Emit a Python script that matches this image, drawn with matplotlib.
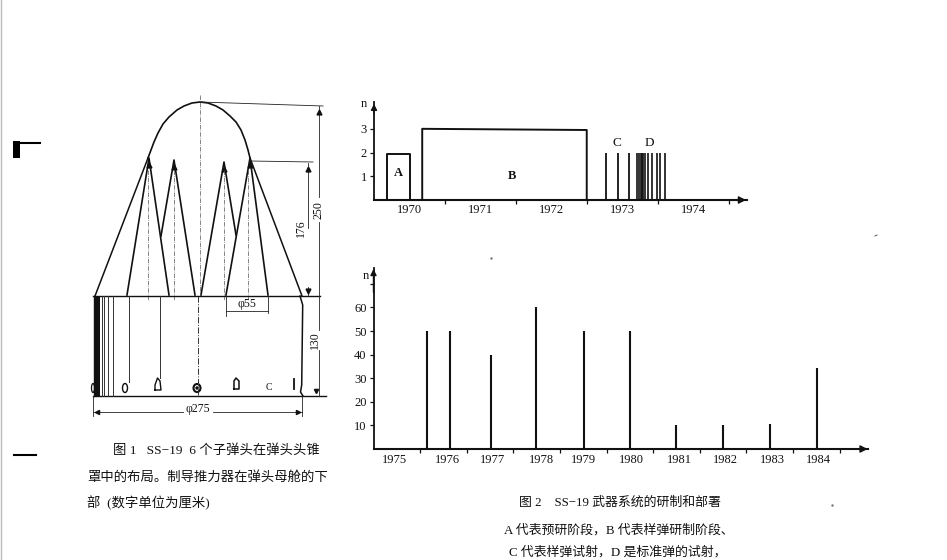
import numpy as np
import matplotlib
matplotlib.use('Agg')
import matplotlib.pyplot as plt
from matplotlib.patches import Ellipse

plt.rcParams['font.family'] = ['Liberation Serif', 'Noto Sans CJK SC', 'DejaVu Sans']

# figure 2, upper chart: development phases 1970-1974
top_years = [1970, 1971, 1972, 1973, 1974]
phase_a = [1970.18, 1970.51, 1.95]
phase_b = [1970.68, 1973.0, 3.0]
shots_c = [1973.27, 1973.44, 1973.59]
shots_d = [1973.705, 1973.742, 1973.762, 1973.78, 1973.798, 1973.822,
           1973.869, 1973.917, 1973.987, 1974.034, 1974.10]
shot_height = 2

# figure 2, lower chart: deployment 1975-1984
low_years = [1975, 1976, 1977, 1978, 1979, 1980, 1981, 1982, 1983, 1984]
low_x = [1976.155, 1976.642, 1977.52, 1978.487, 1979.51, 1980.51,
         1981.49, 1982.51, 1983.51, 1984.51]
low_n = [50, 50, 40, 60, 50, 50, 10, 10, 10.5, 34.5]
low_yticks = [10, 20, 30, 40, 50, 60]

# figure 1, schematic outline (page pixels)
dome_x = [148, 151, 154, 158, 163, 169, 177, 184, 192, 200, 208, 216, 223, 230, 236, 241, 245, 248, 250]
dome_y = [158, 150, 142, 133, 124, 117, 110, 106, 103, 102, 103, 106, 110, 116, 122, 130, 140, 150, 158]
cone_left = [(148, 158), (95, 296)]
cone_right = [(250, 158), (302, 296)]
warheads = [[(127, 295), (149, 158), (169, 295)],
            [(161, 236), (174, 160), (195, 295)],
            [(201, 295), (224, 162), (236, 235)],
            [(226, 295), (250, 158), (268, 295)]]
center_lines = [148, 174, 224, 248]
body_lines = [(102, 396), (104, 396), (108, 396), (113, 396), (129, 382), (160, 378)]

caption1 = ['图 1   SS−19  6 个子弹头在弹头头锥',
            '罩中的布局。制导推力器在弹头母舱的下',
            '部  (数字单位为厘米)']
caption2 = ['图 2    SS−19 武器系统的研制和部署',
            'A 代表预研阶段，B 代表样弹研制阶段、',
            'C 代表样弹试射，D 是标准弹的试射，']

W, H = 947, 560
INK = '#111111'
fig = plt.figure(figsize=(W / 100, H / 100), dpi=100)

page = fig.add_axes([0, 0, 1, 1])
page.set_xlim(0, W)
page.set_ylim(H, 0)
page.axis('off')


def chart_axes(left, right, top, bottom):
    ax = fig.add_axes([left / W, 1 - bottom / H, (right - left) / W, (bottom - top) / H])
    ax.patch.set_alpha(0)
    ax.spines['top'].set_visible(False)
    ax.spines['right'].set_visible(False)
    ax.spines['left'].set_linewidth(1.3)
    ax.spines['bottom'].set_linewidth(1.5)
    ax.spines['left'].set_color(INK)
    ax.spines['bottom'].set_color(INK)
    ax.tick_params(length=3, width=0.9, pad=2, labelsize=9, colors=INK)
    # arrow heads on both axes
    ax.annotate('', xy=(1.005, 0), xytext=(0.94, 0), xycoords='axes fraction',
                arrowprops=dict(arrowstyle='-|>', color=INK, lw=1, mutation_scale=11))
    ax.annotate('', xy=(0, 1.01), xytext=(0, 0.85), xycoords='axes fraction',
                arrowprops=dict(arrowstyle='-|>', color=INK, lw=1, mutation_scale=9))
    return ax


# upper chart
ax1 = chart_axes(374, 747, 102, 200)
ax1.set_xlim(1970, 1975.26)
ax1.set_ylim(0, 4.13)
ax1.set_yticks([1, 2, 3])
ax1.set_xticks(top_years[1:] + [1975])
ax1.set_xticklabels([])
ax1.plot([phase_a[0], phase_a[0], phase_a[1], phase_a[1]], [0, phase_a[2], phase_a[2], 0], color=INK, lw=1.4)
ax1.plot([phase_b[0], phase_b[0], phase_b[1], phase_b[1]], [0, phase_b[2], phase_b[2] - 0.05, 0], color=INK, lw=1.4)
ax1.vlines(shots_c, 0, shot_height, color=INK, lw=1.3)
ax1.vlines(shots_d, 0, shot_height, color=INK, lw=1.2)
for y in top_years:
    ax1.text(y + 0.5, -0.42, str(y), ha='center', va='center', fontsize=9, color=INK)
ax1.text(1970.35, 1.12, 'A', ha='center', va='center', fontsize=9, fontweight='bold', color=INK)
ax1.text(1971.95, 1.0, 'B', ha='center', va='center', fontsize=9, fontweight='bold', color=INK)
ax1.text(1973.42, 2.4, 'C', ha='center', va='center', fontsize=9.5, color=INK)
ax1.text(1973.88, 2.4, 'D', ha='center', va='center', fontsize=9.5, color=INK)
page.text(364, 104, 'n', ha='center', va='center', fontsize=9, color=INK)

# lower chart
ax2 = chart_axes(373.5, 868, 268, 449)
ax2.set_xlim(1975, 1975 + (868 - 373.5) / 46.6)
ax2.set_ylim(0, (449 - 268) / 2.36)
ax2.set_yticks(low_yticks + [70])
ax2.set_yticklabels([str(v) for v in low_yticks] + [''])
ax2.set_xticks([y + 1 for y in low_years])
ax2.set_xticklabels([])
ax2.vlines(low_x, 0, low_n, color=INK, lw=1.5)
label_shift = [-0.04, 0.09, 0.05, 0.1, 0.0, 0.04, 0.06, 0.06, 0.06, 0.04]
for y, s in zip(low_years, label_shift):
    ax2.text(y + 0.5 + s, -4.8, str(y), ha='center', va='center', fontsize=9, color=INK)
page.text(366, 276, 'n', ha='center', va='center', fontsize=9, color=INK)

# figure 1: warhead schematic
page.plot(dome_x, dome_y, color=INK, lw=1.2)
for seg in [cone_left, cone_right]:
    page.plot([p[0] for p in seg], [p[1] for p in seg], color=INK, lw=1.1)
for w in warheads:
    page.plot([p[0] for p in w], [p[1] for p in w], color=INK, lw=1.2)
    page.plot(w[1][0], w[1][1] + 7, marker='^', ms=3.5, color=INK)
for x in center_lines:
    page.plot([x, x], [170, 300], color='#555555', lw=0.5, ls='-.')
page.plot([200, 200], [95, 296], color='#555555', lw=0.5, ls='-.')
page.plot([197.5, 197.5], [296, 396], color='#333333', lw=0.7, ls='-.')

# body below the cone
page.plot([93, 320], [296, 296], color=INK, lw=1.0)
page.plot([93, 326], [396, 396], color=INK, lw=1.0)
page.fill_between([94, 100], 296, 396, color=INK, lw=0)
page.plot([93.5, 93.5], [296, 396], color=INK, lw=1)
for x, y_end in body_lines:
    page.plot([x, x], [296, y_end], color='#333333', lw=0.7)
page.plot([300, 302.7, 301.7, 300.5, 303], [296, 305, 385, 392, 396], color=INK, lw=1.1)

# small outlines at the foot of the body
page.add_patch(Ellipse((125, 388), 5, 9, fill=False, ec=INK, lw=1))
page.add_patch(Ellipse((197, 388), 7, 8, fill=False, ec=INK, lw=1.5))
page.add_patch(Ellipse((197, 388), 2, 2, color=INK))
page.add_patch(Ellipse((93, 388), 3, 9, fill=False, ec=INK, lw=0.9))
page.plot([155, 155, 157.5, 160, 161, 155], [390, 385, 378, 381, 390, 390], color=INK, lw=1)
page.plot([234, 234, 236, 239, 239, 234], [389, 381, 378, 381, 389, 389], color=INK, lw=1.1)
page.text(269, 388, 'C', ha='center', va='center', fontsize=7, color=INK)
page.plot([294, 294], [379, 389], color=INK, lw=1.3)

# dimension lines
thin = dict(color='#222222', lw=0.6)
page.plot([200, 323], [102, 106], **thin)
page.plot([250, 313], [161, 162], **thin)
page.plot([319, 319], [106, 197], **thin)
page.plot([319, 319], [222, 330], **thin)
page.plot([319, 319], [350, 396], **thin)
page.plot([308, 308], [163, 228], **thin)
page.plot([308, 308], [287, 296], **thin)
page.plot([319], [112], marker='^', ms=3.5, color=INK)
page.plot([308], [169], marker='^', ms=3.5, color=INK)
page.plot([308], [291], marker='v', ms=3.5, color=INK)
page.plot([316], [391], marker='v', ms=3, color=INK)
page.text(319, 210, '250', rotation=90, ha='center', va='center', fontsize=8.5, color=INK)
page.text(301, 228, '176', rotation=90, ha='center', va='center', fontsize=8.5, color=INK)
page.text(315, 340, '130', rotation=90, ha='center', va='center', fontsize=8.5, color=INK)
page.plot([226, 226], [296, 316], **thin)
page.plot([268, 268], [296, 313], **thin)
page.plot([226, 268], [311, 311], **thin)
page.text(247, 304, 'φ55', ha='center', va='center', fontsize=8.5, color=INK)
page.plot([93, 93], [396, 416], **thin)
page.plot([302, 302], [396, 416], **thin)
page.plot([93, 183], [412, 412], **thin)
page.plot([213, 302], [412, 412], **thin)
page.plot([97], [412], marker='<', ms=3, color=INK)
page.plot([298], [412], marker='>', ms=3, color=INK)
page.text(198, 409, 'φ275', ha='center', va='center', fontsize=8.5, color=INK)

# captions
for txt, x, y in zip(caption1, [113, 87, 87], [451, 477, 503]):
    page.text(x, y, txt, ha='left', va='center', fontsize=9.6, color=INK)
for txt, x, y in zip(caption2, [519, 504, 509], [503, 530, 552]):
    page.text(x, y, txt, ha='left', va='center', fontsize=9.3, color=INK)

# scan marks on the page edge
page.plot([0.5, 0.5], [0, H], color='#bbbbbb', lw=1)
page.plot([14, 40], [143, 143], color='black', lw=1.5)
page.fill_between([13, 20], 141, 158, color='black', lw=0)
page.plot([14, 36], [455, 455], color='black', lw=1.5)
page.plot([875, 877], [236, 235], color='#555555', lw=0.7)
page.plot([491], [258], marker='.', ms=1.5, color='#777777')
page.plot([832], [505], marker='.', ms=1.5, color='#777777')

page.set_xlim(0, W)
page.set_ylim(H, 0)
fig.savefig('out.png', dpi=100)
